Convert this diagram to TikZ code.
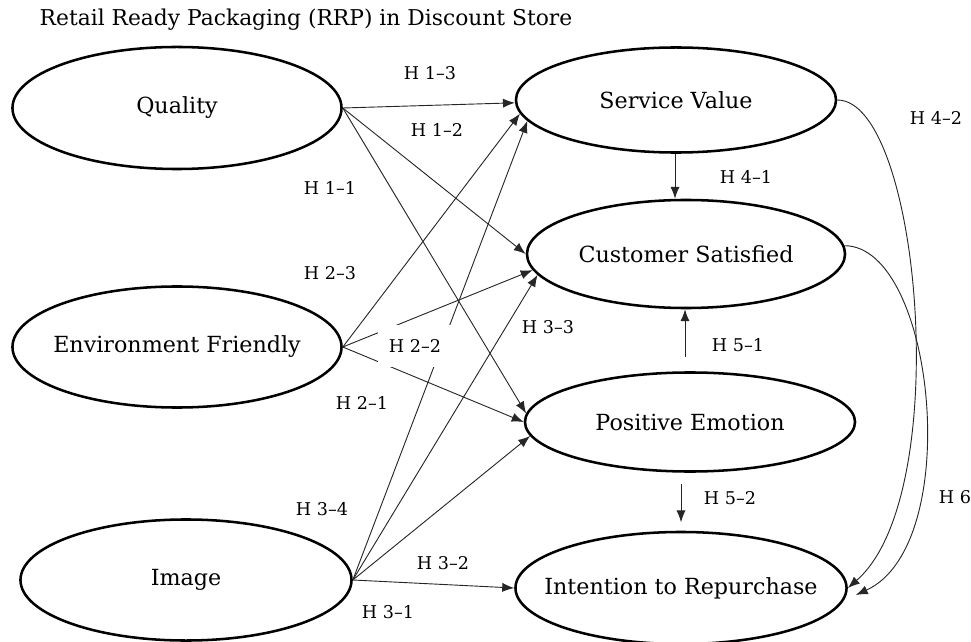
\documentclass[tikz,border=0pt]{standalone}
\usepackage{fontspec}
\setmainfont{DejaVu Serif}
\usetikzlibrary{shapes.geometric,arrows.meta}
\begin{document}
\begin{tikzpicture}[x=0.025cm, y=-0.025cm,
    factor/.style={ellipse, draw, line width=1.8pt, inner sep=0pt,
      label={[font=\fontsize{15.8}{17}\selectfont]center:#1}},
    hyp/.style={-{Latex[length=8.5pt,width=6.5pt]}, line width=0.65pt, draw=black!85},
    hlabel/.style={font=\fontsize{12.5}{14}\selectfont}]
  \useasboundingbox (0,0) rectangle (971,642);
  \node[font=\fontsize{15.5}{17}\selectfont] (title) at (306,20) {Retail Ready Packaging (RRP) in Discount Store};

  % antecedents
  \node[factor=Quality, minimum width=8.225cm, minimum height=3.05cm] (qual) at (177,108) {};
  \node[factor=Environment Friendly, minimum width=8.225cm, minimum height=3.025cm] (env) at (177,347) {};
  \node[factor=Image, minimum width=8.275cm, minimum height=3.025cm] (img) at (186,580) {};

  % outcomes
  \node[factor=Service Value, minimum width=8cm, minimum height=2.625cm] (serv) at (676,100) {};
  \node[factor=Customer Satisfied, minimum width=7.95cm, minimum height=2.7cm] (sat) at (686,254) {};
  \node[factor=Positive Emotion, minimum width=8.25cm, minimum height=2.475cm] (emo) at (690,422) {};
  \node[factor=Intention to Repurchase, minimum width=8.275cm, minimum height=2.8cm] (rep) at (681,588) {};

  % H1 - H3
  \draw[hyp] (qual.east) -- (serv.181);
  \draw[hyp] (qual.east) -- (sat.180);
  \draw[hyp] (qual.east) -- (emo.177);
  \draw[hyp] (env.east) -- (serv.185);
  \draw[hyp] (env.east) -- (sat.186);
  \draw[hyp] (env.east) -- (emo.180);
  \draw[hyp] (img.east) -- (serv.188);
  \draw[hyp] (img.east) -- (sat.188);
  \draw[hyp] (img.east) -- (emo.185);
  \draw[hyp] (img.east) -- (rep.west);

  % H4 - H6
  \draw[hyp] (serv.south -| 675,0) -- (sat.north -| 675,0);
  \draw[hyp, shorten <=10pt] (emo.north -| 685,0) -- (sat.south -| 685,0);
  \draw[hyp, shorten <=8pt, shorten >=6pt] (emo.south -| 681,0) -- (rep.north -| 681,0);
  \draw[hyp] (serv.east) .. controls (920,100) and (955,495) .. (rep.east);
  \draw[hyp] (sat.3) .. controls (935,246) and (965,545) .. ([shift={(8,7)}]rep.east);

  % labels
  \node[hlabel] (h13) at (430,73) {H 1–3};
  \node[hlabel] (h12) at (437,130) {H 1–2};
  \node[hlabel] (h11) at (330,188) {H 1–1};
  \node[hlabel] (h23) at (330,273) {H 2–3};
  \node[hlabel, fill=white, minimum width=1.85cm, minimum height=1.05cm] (h22) at (415,346) {H 2–2};
  \node[hlabel] (h33) at (548,327) {H 3–3};
  \node[hlabel] (h21) at (362,403) {H 2–1};
  \node[hlabel] (h34) at (322,509) {H 3–4};
  \node[hlabel] (h32) at (443,563) {H 3–2};
  \node[hlabel] (h31) at (388,612) {H 3–1};
  \node[hlabel] (h41) at (746,177) {H 4–1};
  \node[hlabel] (h51) at (738,345) {H 5–1};
  \node[hlabel] (h52) at (730,498) {H 5–2};
  \node[hlabel] (h42) at (936,118) {H 4–2};
  \node[hlabel] (h6) at (955,497) {H 6};
\end{tikzpicture}
\end{document}
